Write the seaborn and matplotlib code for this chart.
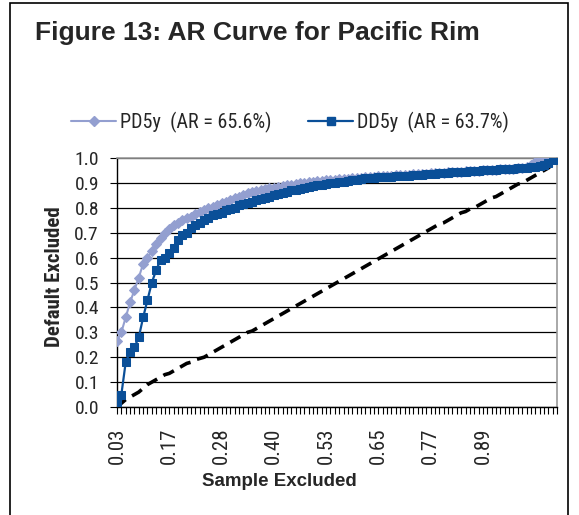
import numpy as np
import pandas as pd
import matplotlib
matplotlib.use("Agg")
import matplotlib.pyplot as plt
import matplotlib.font_manager as fm
import seaborn as sns
from matplotlib.lines import Line2D
from matplotlib.patches import Rectangle

# ── Data ─────────────────────────────────────────────────────────────
X_TICK_LABELS = ["0.03", "0.17", "0.28", "0.40", "0.53", "0.65", "0.77", "0.89"]

PD5Y = [
    0.265, 0.30, 0.36, 0.42, 0.47, 0.52, 0.575, 0.60, 0.625, 0.655,
    0.68, 0.70, 0.715, 0.73, 0.74, 0.75, 0.76, 0.765, 0.775, 0.785,
    0.79, 0.80, 0.805, 0.81, 0.82, 0.825, 0.83, 0.84, 0.845, 0.85,
    0.86, 0.863, 0.866, 0.87, 0.875, 0.878, 0.88, 0.884, 0.887, 0.89,
    0.893, 0.896, 0.898, 0.90, 0.902, 0.904, 0.906, 0.908, 0.91, 0.911,
    0.912, 0.914, 0.915, 0.917, 0.918, 0.92, 0.921, 0.922, 0.924, 0.925,
    0.926, 0.927, 0.928, 0.929, 0.93, 0.931, 0.932, 0.933, 0.934, 0.935,
    0.936, 0.937, 0.938, 0.939, 0.94, 0.941, 0.942, 0.943, 0.944, 0.945,
    0.946, 0.947, 0.948, 0.949, 0.95, 0.951, 0.952, 0.953, 0.954, 0.955,
    0.956, 0.957, 0.958, 0.959, 0.962, 0.97, 0.985, 0.99, 0.992, 0.994,
    0.997, 1.0,
]

DD5Y = [
    0.02, 0.05, 0.18, 0.22, 0.24, 0.28, 0.36, 0.43, 0.50, 0.55,
    0.59, 0.60, 0.62, 0.64, 0.67, 0.69, 0.70, 0.72, 0.73, 0.74,
    0.75, 0.76, 0.77, 0.775, 0.78, 0.79, 0.795, 0.80, 0.81, 0.815,
    0.82, 0.825, 0.83, 0.835, 0.84, 0.845, 0.85, 0.855, 0.86, 0.865,
    0.87, 0.872, 0.876, 0.88, 0.885, 0.888, 0.89, 0.893, 0.896, 0.898,
    0.90, 0.902, 0.904, 0.906, 0.91, 0.912, 0.915, 0.918, 0.92, 0.92,
    0.922, 0.922, 0.924, 0.925, 0.926, 0.927, 0.928, 0.929, 0.93, 0.932,
    0.933, 0.935, 0.936, 0.937, 0.938, 0.94, 0.941, 0.942, 0.943, 0.944,
    0.945, 0.946, 0.948, 0.949, 0.95, 0.951, 0.952, 0.953, 0.954, 0.955,
    0.956, 0.957, 0.958, 0.959, 0.96, 0.962, 0.965, 0.968, 0.972, 0.978,
    0.99, 1.0,
]

RANDOM = [
    0.0, 0.015, 0.03, 0.04, 0.05, 0.06, 0.075, 0.09, 0.10, 0.11,
    0.12, 0.13, 0.135, 0.145, 0.155, 0.165, 0.175, 0.18, 0.19, 0.195,
    0.20, 0.21, 0.22, 0.23, 0.24, 0.25, 0.26, 0.27, 0.28, 0.29,
    0.30, 0.305, 0.315, 0.325, 0.335, 0.345, 0.355, 0.365, 0.375, 0.385,
    0.395, 0.405, 0.415, 0.425, 0.435, 0.445, 0.455, 0.465, 0.475, 0.485,
    0.495, 0.505, 0.515, 0.525, 0.535, 0.545, 0.555, 0.565, 0.575, 0.585,
    0.595, 0.605, 0.615, 0.625, 0.635, 0.645, 0.655, 0.665, 0.675, 0.685,
    0.695, 0.705, 0.715, 0.725, 0.735, 0.74, 0.75, 0.76, 0.77, 0.78,
    0.785, 0.795, 0.80, 0.81, 0.82, 0.83, 0.84, 0.845, 0.855, 0.865,
    0.875, 0.885, 0.895, 0.90, 0.91, 0.92, 0.93, 0.94, 0.95, 0.96,
    0.975, 0.99,
]

PD_LABEL = "PD5y  (AR = 65.6%)"
DD_LABEL = "DD5y  (AR = 63.7%)"

PD_COLOR = "#939FD0"
DD_COLOR = "#0A4F98"


# ── Fonts: look for an installed narrow / condensed face ────────────
def find_narrow(bold=False):
    wanted_w = {"bold", 700, "700"} if bold else {"normal", "regular", 400, "400"}
    narrow_names = ["Liberation Sans Narrow", "Arial Narrow", "Roboto Condensed",
                    "Open Sans Condensed"]
    fonts = fm.fontManager.ttflist
    for name in narrow_names:
        for f in fonts:
            if f.name == name and f.weight in wanted_w and f.style == "normal":
                return fm.FontProperties(fname=f.fname)
    for fam in ["DejaVu Sans", "Noto Sans", "Open Sans", "Roboto"]:
        for f in fonts:
            if (f.name == fam and f.stretch in ("condensed", "semi-condensed")
                    and f.weight in wanted_w and f.style == "normal"):
                return fm.FontProperties(fname=f.fname)
    return fm.FontProperties(family="Liberation Sans",
                             weight="bold" if bold else "normal")


NARROW_FP = find_narrow()
NARROW_BOLD_FP = find_narrow(bold=True)


def fp(base, size):
    p = base.copy()
    p.set_size(size)
    return p


# ── Figure ───────────────────────────────────────────────────────────
sns.set_style("white")
plt.rcParams["font.family"] = ["Liberation Sans", "DejaVu Sans"]

fig = plt.figure(figsize=(5.79, 5.15), dpi=100)
ax = fig.add_axes([117 / 579, 1 - 407 / 515, 440 / 579, 249 / 515])

idx = np.arange(len(DD5Y))
df = pd.DataFrame({"idx": idx, "PD": PD5Y, "DD": DD5Y, "RND": RANDOM})

sns.lineplot(data=df, x="idx", y="RND", ax=ax, color="black", lw=2.6, zorder=2)
ax.lines[-1].set_dashes((3.2, 2.0))
sns.lineplot(data=df, x="idx", y="PD", ax=ax, color=PD_COLOR, lw=1.5,
             marker="D", markersize=5.4, markeredgecolor=PD_COLOR, zorder=3)
sns.lineplot(data=df, x="idx", y="DD", ax=ax, color=DD_COLOR, lw=1.6,
             marker="s", markersize=5.8, markeredgecolor=DD_COLOR, zorder=4)

ax.set_xlim(0, len(DD5Y) - 1)
ax.set_ylim(0, 1.0)
yt = np.arange(0, 1.01, 0.1)
ax.set_yticks(yt)
ax.set_yticklabels([f"{v:.1f}" for v in yt], fontproperties=fp(NARROW_FP, 14))
ax.yaxis.grid(True, color="black", lw=0.9)
ax.set_axisbelow(True)

label_pos = np.arange(0, 12 * len(X_TICK_LABELS), 12)
ax.set_xticks(label_pos)
ax.set_xticklabels(X_TICK_LABELS, rotation=90, fontproperties=fp(NARROW_FP, 15))
ax.set_xticks(idx, minor=True)
ax.tick_params(axis="x", which="both", direction="out", length=5, width=0.8,
               color="black", bottom=True, pad=10)
ax.tick_params(axis="y", direction="out", length=5, width=0.8, color="black",
               left=True, pad=8)

for side in ("left", "bottom"):
    ax.spines[side].set_color("black")
    ax.spines[side].set_linewidth(1.0)
for side in ("top", "right"):
    ax.spines[side].set_color("#999999")
    ax.spines[side].set_linewidth(1.2)

ax.set_xlabel("")
ax.set_ylabel("")
fig.text(55 / 579, 1 - 277 / 515, "Default Excluded", rotation=90,
         ha="center", va="center", fontproperties=fp(NARROW_BOLD_FP, 15))
fig.text(279 / 579, 1 - 482 / 515, "Sample Excluded", ha="center",
         va="center", fontsize=13.5, fontweight="bold",
         family=["Liberation Sans", "DejaVu Sans"])

fig.text(35 / 579, 1 - 33 / 515, "Figure 13: AR Curve for Pacific Rim",
         ha="left", va="center", fontsize=19, fontweight="bold")

handles = [
    Line2D([], [], color=PD_COLOR, lw=1.5, marker="D", markersize=5.4),
    Line2D([], [], color=DD_COLOR, lw=1.6, marker="s", markersize=5.8),
]
fig.legend(handles, [PD_LABEL, DD_LABEL], loc="center", ncol=2,
           bbox_to_anchor=(290 / 579, 1 - 122 / 515), frameon=False,
           prop=fp(NARROW_FP, 14.5), handlelength=2.2, handletextpad=0.2,
           columnspacing=1.85)

fig.patches.append(Rectangle((10 / 579, -0.02), 558 / 579, 1 - 3 / 515 + 0.02,
                             transform=fig.transFigure, fill=False,
                             edgecolor="black", lw=1.2))

fig.savefig("out.png", dpi=100, facecolor="white")
